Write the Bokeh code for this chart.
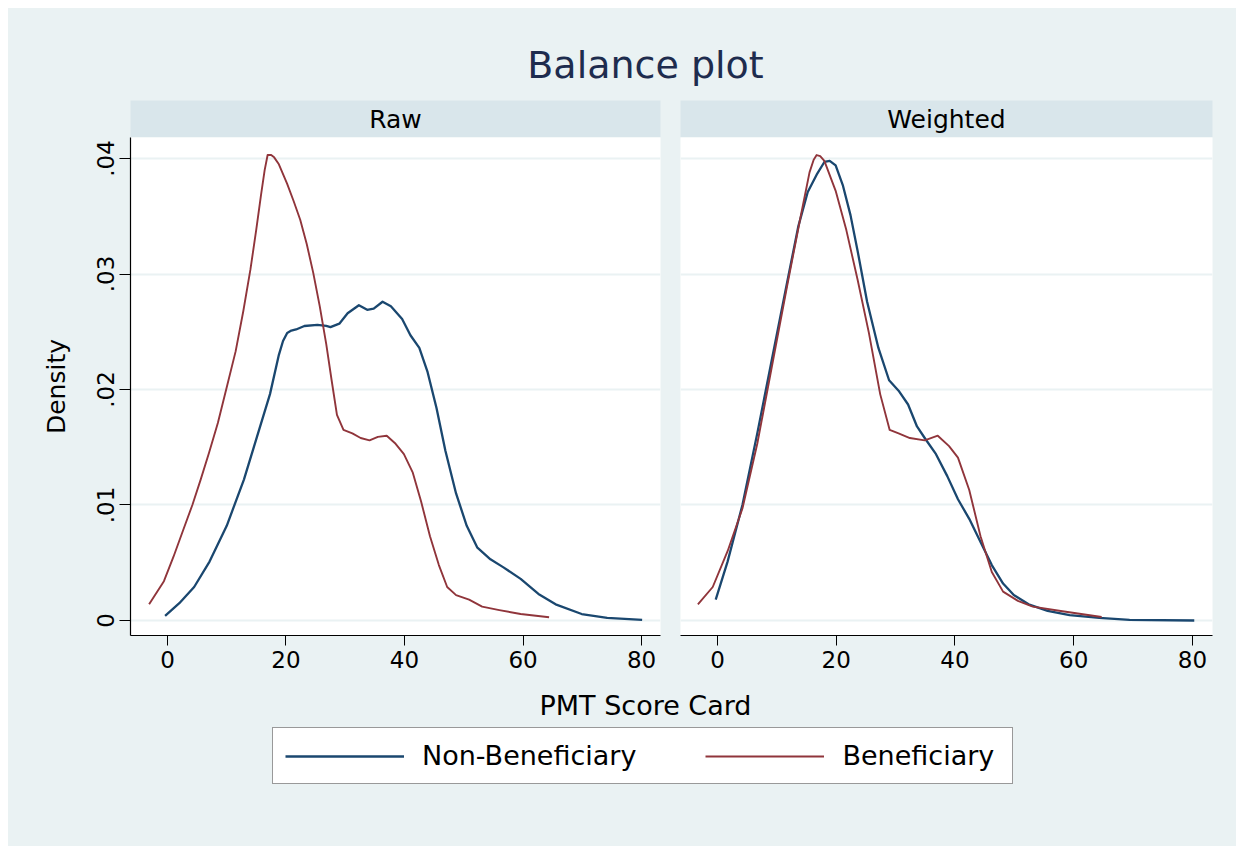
from bokeh.plotting import figure
from bokeh.models import Range1d, FixedTicker, Grid, Label, Legend, LegendItem
from bokeh.layouts import column, row
from bokeh.embed import file_html
from bokeh.resources import INLINE

# ---------------- data ----------------
title_text = "Balance plot"
panel_titles = ["Raw", "Weighted"]
x_title = "PMT Score Card"
y_title = "Density"
legend_labels = ["Non-Beneficiary", "Beneficiary"]

x_ticks = [0, 20, 40, 60, 80]
y_ticks = [0, 0.01, 0.02, 0.03, 0.04]
y_tick_labels = ["0", ".01", ".02", ".03", ".04"]

# Beneficiary, raw
benef_raw_x = [-3.1, -0.6, 1.0, 2.7, 4.2, 5.6, 7.0, 8.5, 10.0, 11.5, 12.8, 14.0, 15.0,
               15.8, 16.4, 16.9, 17.5, 18.0, 18.8, 20.2, 21.3, 22.4, 23.5, 24.6, 25.7,
               26.8, 27.7, 28.6, 29.7, 31.2, 32.6, 34.1, 35.5, 37.0, 38.5, 39.9, 41.4,
               42.8, 44.3, 45.8, 47.2, 48.7, 50.9, 53.1, 56.0, 59.6, 64.4]
benef_raw_y = [0.0014, 0.0034, 0.0055, 0.0079, 0.0100, 0.0122, 0.0145, 0.0171, 0.0202,
               0.0233, 0.0268, 0.0304, 0.0339, 0.0369, 0.0390, 0.0403, 0.0403, 0.0401,
               0.0395, 0.0378, 0.0363, 0.0347, 0.0326, 0.0301, 0.0272, 0.0239, 0.0208,
               0.0178, 0.0165, 0.0162, 0.0158, 0.0156, 0.0159, 0.0160, 0.0153, 0.0144,
               0.0128, 0.0103, 0.0073, 0.0048, 0.0029, 0.0022, 0.0018, 0.0012, 0.0009,
               0.00056, 0.00028]

# Beneficiary, weighted
benef_wt_x = [-3.3, -0.8, 1.7, 4.2, 6.7, 9.2, 11.7, 13.9, 15.5, 16.2, 16.7, 17.3, 18.0,
              19.9, 21.7, 23.6, 25.5, 27.4, 29.0, 30.5, 32.4, 34.9, 37.1, 39.0, 40.5,
              42.4, 44.3, 46.2, 48.1, 50.6, 53.1, 58.1, 64.7]
benef_wt_y = [0.0014, 0.0029, 0.0060, 0.0097, 0.0153, 0.0221, 0.0289, 0.0347, 0.0388,
              0.0399, 0.0403, 0.0402, 0.0398, 0.0372, 0.0338, 0.0295, 0.0249, 0.0196,
              0.0165, 0.0162, 0.0158, 0.0156, 0.0160, 0.0151, 0.0141, 0.0113, 0.0073,
              0.0042, 0.0025, 0.0017, 0.0012, 0.0008, 0.0003]

# Non-Beneficiary, raw
nonben_raw_x = [-0.4, 2.0, 4.5, 7.1, 10.0, 12.9, 15.1, 17.3, 18.8, 19.5, 20.2, 20.9,
                21.7, 23.1, 25.3, 26.8, 27.5, 29.0, 30.4, 32.3, 33.7, 34.8, 36.3, 37.7,
                39.6, 41.0, 42.5, 43.9, 45.4, 46.9, 48.7, 50.5, 52.3, 54.5, 56.7, 59.6,
                62.6, 65.5, 69.9, 74.2, 80.1]
nonben_raw_y = [0.0004, 0.0015, 0.0029, 0.0051, 0.0082, 0.0122, 0.0159, 0.0196, 0.0230,
                0.0242, 0.0249, 0.0251, 0.0252, 0.0255, 0.0256, 0.0255, 0.0254, 0.0257,
                0.0266, 0.0273, 0.0269, 0.0270, 0.0276, 0.0272, 0.0261, 0.0247, 0.0236,
                0.0215, 0.0184, 0.0147, 0.0110, 0.0082, 0.0063, 0.0053, 0.0046, 0.0036,
                0.0023, 0.0014, 0.00056, 0.00022, 0.00006]

# Non-Beneficiary, weighted
nonben_wt_x = [-0.3, 1.7, 4.2, 6.7, 9.2, 11.7, 13.6, 15.2, 16.7, 18.0, 18.9, 19.9, 21.1,
               22.4, 23.6, 25.2, 27.1, 28.9, 30.5, 32.1, 33.6, 34.9, 36.8, 38.7, 40.5,
               42.4, 44.3, 46.2, 48.1, 49.9, 52.4, 55.6, 59.3, 64.3, 69.4, 80.3]
nonben_wt_y = [0.0018, 0.0051, 0.0100, 0.0162, 0.0227, 0.0292, 0.0341, 0.0371, 0.0386,
               0.0397, 0.0398, 0.0394, 0.0377, 0.0351, 0.0320, 0.0276, 0.0236, 0.0208,
               0.0199, 0.0187, 0.0168, 0.0158, 0.0144, 0.0125, 0.0105, 0.0088, 0.0068,
               0.0048, 0.0032, 0.0022, 0.0014, 0.00083, 0.00046, 0.00022, 0.00006, 0.0]

# ---------------- style ----------------
BG = "#EAF2F3"
STRIP = "#D9E6EB"
GRID = "#EAF2F3"
BLUE = "#1A476F"
RED = "#90353B"
TITLE_C = "#1E2C4E"
FONT = "DejaVu Sans"

TOTAL_W = 1228
TOP_H = 92
STRIP_H = 37
PANEL_H = 543
BOTTOM_H = 166

LEFT_W, LEFT_BL, LEFT_BR = 662, 122, 10
RIGHT_W, RIGHT_BL, RIGHT_BR = 566, 10, 24

Y_RANGE = (-0.0013, 0.04182)
X_RANGES = [(-6.24, 83.2), (-6.23, 83.37)]


def bare(fig):
    fig.outline_line_color = None
    fig.border_fill_color = BG
    for g in fig.grid:
        g.visible = False
    return fig


def make_strip(text, width, bl, br):
    s = figure(width=width, height=STRIP_H, x_range=Range1d(0, 1), y_range=Range1d(0, 1),
               output_backend="svg", toolbar_location=None,
               x_axis_location=None, y_axis_location=None,
               min_border_left=bl, min_border_right=br, min_border_top=0, min_border_bottom=0)
    bare(s)
    s.background_fill_color = STRIP
    s.add_layout(Label(x=0.5, y=0.5, text=text, text_align="center", text_baseline="middle",
                       text_font=FONT, text_font_size="25px", text_color="black"))
    return s


def make_panel(series, width, bl, br, xr, show_y):
    p = figure(width=width, height=PANEL_H, x_range=Range1d(*xr), y_range=Range1d(*Y_RANGE),
               output_backend="svg", toolbar_location=None,
               y_axis_location="left" if show_y else None,
               min_border_left=bl, min_border_right=br, min_border_top=0, min_border_bottom=45)
    p.outline_line_color = None
    p.border_fill_color = BG
    p.background_fill_color = "white"
    for g in p.xgrid:
        g.visible = False
    ygrids = list(p.ygrid)
    if not ygrids:
        g = Grid(dimension=1)
        p.add_layout(g)
        ygrids = [g]
    for g in ygrids:
        g.ticker = FixedTicker(ticks=y_ticks)
        g.grid_line_color = GRID
        g.grid_line_width = 2

    ax = p.xaxis[0]
    ax.ticker = FixedTicker(ticks=x_ticks)
    ax.minor_tick_line_color = None
    ax.major_tick_in = 0
    ax.major_tick_out = 10
    ax.major_tick_line_color = "black"
    ax.axis_line_color = "black"
    ax.axis_line_width = 1.2
    ax.major_label_standoff = 5
    ax.major_label_text_font = FONT
    ax.major_label_text_font_size = "23px"
    ax.major_label_text_color = "black"

    if show_y:
        ay = p.yaxis[0]
        ay.ticker = FixedTicker(ticks=y_ticks)
        ay.major_label_overrides = {t: l for t, l in zip(y_ticks, y_tick_labels)}
        ay.minor_tick_line_color = None
        ay.major_tick_in = 0
        ay.major_tick_out = 11
        ay.major_tick_line_color = "black"
        ay.axis_line_color = "black"
        ay.axis_line_width = 1.2
        ay.major_label_orientation = "vertical"
        ay.major_label_standoff = 5
        ay.major_label_text_font = FONT
        ay.major_label_text_font_size = "23px"
        ay.major_label_text_color = "black"
        ay.axis_label = y_title
        ay.axis_label_text_font = FONT
        ay.axis_label_text_font_size = "25px"
        ay.axis_label_text_font_style = "normal"
        ay.axis_label_text_color = "black"
        ay.axis_label_standoff = 24

    for (xs, ys, col, lw) in series:
        p.line(xs, ys, line_color=col, line_width=lw, line_join="round")
    return p


strip_l = make_strip(panel_titles[0], LEFT_W, LEFT_BL, LEFT_BR)
strip_r = make_strip(panel_titles[1], RIGHT_W, RIGHT_BL, RIGHT_BR)

panel_l = make_panel([(nonben_raw_x, nonben_raw_y, BLUE, 2.3), (benef_raw_x, benef_raw_y, RED, 1.9)],
                     LEFT_W, LEFT_BL, LEFT_BR, X_RANGES[0], True)
panel_r = make_panel([(nonben_wt_x, nonben_wt_y, BLUE, 2.3), (benef_wt_x, benef_wt_y, RED, 1.9)],
                     RIGHT_W, RIGHT_BL, RIGHT_BR, X_RANGES[1], False)

# top: overall title
top = figure(width=TOTAL_W, height=TOP_H, x_range=Range1d(0, 1), y_range=Range1d(0, 1),
             output_backend="svg", toolbar_location=None,
             x_axis_location=None, y_axis_location=None, min_border=0)
bare(top)
top.background_fill_color = BG
top.add_layout(Label(x=637, y=36, x_units="screen", y_units="screen", text=title_text,
                     text_align="center", text_baseline="alphabetic", text_font=FONT,
                     text_font_size="38px", text_color=TITLE_C))

# bottom: x title + legend (legend renderers sit outside the visible ranges)
bottom = figure(width=TOTAL_W, height=BOTTOM_H, x_range=Range1d(200, 201), y_range=Range1d(1, 2),
                output_backend="svg", toolbar_location=None,
                x_axis_location=None, y_axis_location=None, min_border=0)
bare(bottom)
bottom.background_fill_color = BG
bottom.add_layout(Label(x=637, y=141, x_units="screen", y_units="screen", text=x_title,
                        text_align="center", text_baseline="alphabetic", text_font=FONT,
                        text_font_size="27px", text_color="black"))
r_blue = bottom.line(nonben_raw_x, nonben_raw_y, line_color=BLUE, line_width=2.3)
r_red = bottom.line(benef_raw_x, benef_raw_y, line_color=RED, line_width=1.9)
legend = Legend(items=[LegendItem(label=legend_labels[0], renderers=[r_blue]),
                       LegendItem(label=legend_labels[1], renderers=[r_red])],
                orientation="horizontal", location=(264, 62), margin=0, padding=12,
                spacing=69, glyph_width=119, glyph_height=20, label_standoff=18,
                label_width=158,
                label_text_font=FONT, label_text_font_size="27px", label_text_color="black",
                border_line_color="#333333", border_line_width=1.2,
                background_fill_color="white", background_fill_alpha=1.0)
bottom.add_layout(legend)

bg_style = {"background-color": BG}
layout = column(top,
                row(column(strip_l, panel_l, styles=bg_style),
                    column(strip_r, panel_r, styles=bg_style), styles=bg_style),
                bottom, styles=bg_style, margin=(8, 8, 8, 8))

open("out.html", "w").write(file_html(layout, INLINE))
